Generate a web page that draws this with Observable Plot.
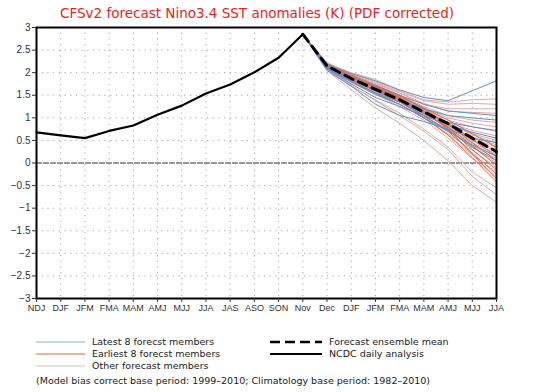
<!DOCTYPE html>
<html><head><meta charset="utf-8">
<script src="https://cdn.jsdelivr.net/npm/d3@7"></script>
<script src="https://cdn.jsdelivr.net/npm/@observablehq/plot@0.6"></script>
<style>
body{margin:0;background:#fff;font-family:"DejaVu Sans",sans-serif}
#wrap{position:relative;width:534px;height:392px;overflow:hidden;background:#fff}
#title{position:absolute;top:5px;left:-10px;width:534px;text-align:center;color:#e3261e;font-size:13.5px;font-family:"DejaVu Sans",sans-serif}
#chart{position:absolute;top:0;left:0}
.leg{position:absolute;font-size:9.5px;color:#222;white-space:nowrap;line-height:12px}
.sw{position:absolute}
</style>
</head><body>
<div id="wrap">
<div id="chart"></div>
<div id="title">CFSv2 forecast Nino3.4 SST anomalies (K) (PDF corrected)</div>
<div id="legend"></div>
</div>
<script>
const xLabels = ["NDJ","DJF","JFM","FMA","MAM","AMJ","MJJ","JJA","JAS","ASO","SON","Nov","Dec","DJF","JFM","FMA","MAM","AMJ","MJJ","JJA"];
const yTicks = [-3,-2.5,-2,-1.5,-1,-0.5,0,0.5,1,1.5,2,2.5,3];
// observed (NCDC daily analysis), NDJ .. Nov
const observed = [0.68,0.61,0.55,0.71,0.83,1.07,1.27,1.54,1.74,2.01,2.33,2.85];
// forecast ensemble mean, Nov .. JJA
const ensembleMean = [2.85,2.15,1.87,1.63,1.40,1.13,0.87,0.55,0.25];
// members, Nov .. JJA
const latest8 = [
 [2.85,2.18,1.98,1.82,1.62,1.45,1.38,1.60,1.82],
 [2.85,2.15,1.90,1.70,1.50,1.30,1.15,1.10,1.05],
 [2.85,2.12,1.85,1.60,1.40,1.20,1.05,1.00,0.95],
 [2.85,2.10,1.80,1.55,1.35,1.10,0.90,0.80,0.72],
 [2.85,2.08,1.75,1.45,1.25,1.05,0.85,0.68,0.55],
 [2.85,2.05,1.70,1.30,1.05,0.92,0.75,0.55,0.45],
 [2.85,2.10,1.80,1.52,1.30,1.00,0.70,0.40,0.15],
 [2.85,2.12,1.85,1.60,1.35,1.05,0.72,0.35,0.05]
];
const earliest8 = [
 [2.85,2.18,1.92,1.70,1.48,1.22,0.95,0.65,0.35],
 [2.85,2.15,1.90,1.68,1.45,1.15,0.88,0.52,0.15],
 [2.85,2.20,1.95,1.72,1.50,1.20,0.85,0.45,0.05],
 [2.85,2.14,1.88,1.62,1.40,1.10,0.80,0.38,-0.05],
 [2.85,2.16,1.90,1.66,1.42,1.12,0.78,0.30,-0.15],
 [2.85,2.12,1.85,1.60,1.35,1.05,0.70,0.22,-0.25],
 [2.85,2.18,1.92,1.68,1.45,1.15,0.75,0.20,-0.35],
 [2.85,2.10,1.82,1.55,1.30,1.00,0.62,0.12,-0.42]
];
const otherMembers = [
 [2.85,2.20,2.00,1.85,1.60,1.40,1.35,1.40,1.42],
 [2.85,2.22,1.98,1.80,1.58,1.38,1.30,1.32,1.30],
 [2.85,2.18,1.95,1.78,1.55,1.30,1.20,1.20,1.20],
 [2.85,2.20,1.95,1.75,1.55,1.32,1.15,1.12,1.10],
 [2.85,2.15,1.92,1.72,1.50,1.25,1.05,0.95,0.90],
 [2.85,2.17,1.90,1.70,1.48,1.22,1.00,0.88,0.80],
 [2.85,2.14,1.88,1.65,1.45,1.20,0.95,0.80,0.70],
 [2.85,2.16,1.90,1.68,1.42,1.15,0.90,0.72,0.60],
 [2.85,2.12,1.86,1.62,1.40,1.12,0.85,0.65,0.50],
 [2.85,2.18,1.94,1.72,1.50,1.20,0.90,0.62,0.45],
 [2.85,2.10,1.82,1.58,1.35,1.10,0.82,0.58,0.40],
 [2.85,2.15,1.90,1.66,1.44,1.15,0.85,0.55,0.35],
 [2.85,2.13,1.86,1.60,1.38,1.08,0.80,0.50,0.30],
 [2.85,2.20,1.96,1.74,1.50,1.18,0.85,0.50,0.25],
 [2.85,2.08,1.78,1.52,1.30,1.02,0.75,0.45,0.20],
 [2.85,2.14,1.88,1.64,1.40,1.10,0.78,0.42,0.15],
 [2.85,2.12,1.85,1.58,1.35,1.05,0.72,0.38,0.10],
 [2.85,2.16,1.90,1.66,1.42,1.12,0.75,0.35,0.00],
 [2.85,2.10,1.80,1.55,1.30,1.00,0.65,0.28,-0.10],
 [2.85,2.14,1.86,1.60,1.35,1.02,0.62,0.18,-0.20],
 [2.85,2.10,1.80,1.52,1.25,0.95,0.55,0.10,-0.30],
 [2.85,2.05,1.70,1.40,1.10,0.75,0.35,-0.20,-0.55],
 [2.85,2.08,1.72,1.38,1.05,0.70,0.30,-0.30,-0.70],
 [2.85,2.05,1.62,1.22,0.88,0.50,0.05,-0.50,-0.87]
];
const forecastStart = 11; // index of "Nov"

const toLong = (arr, group) => arr.flatMap((vals, m) => vals.map((v, i) => ({x: forecastStart + i, y: v, member: group + m})));
const obsData = observed.map((v, i) => ({x: i, y: v}));
const meanData = ensembleMean.map((v, i) => ({x: forecastStart + i, y: v}));

const fmt = d => (d < 0 ? "\u2212" : "") + String(Math.abs(d));

const chart = Plot.plot({
  width: 534, height: 316,
  marginTop: 27, marginBottom: 18, marginLeft: 36, marginRight: 38,
  style: {fontFamily: "'Liberation Sans', Arial, sans-serif", fontSize: "10px", background: "transparent", color: "#333"},
  x: {domain: [0, 19]},
  y: {domain: [-3, 3]},
  marks: [
    Plot.gridX(d3.range(1, 19), {stroke: "#999", strokeOpacity: 0.9, strokeDasharray: "1.2,4.5"}),
    Plot.gridY(yTicks.filter(d => d !== 0 && Math.abs(d) !== 3), {stroke: "#999", strokeOpacity: 0.9, strokeDasharray: "1.2,4.5"}),
    Plot.ruleY([0], {stroke: "#333", strokeWidth: 1, strokeDasharray: "6,1"}),
    Plot.line(toLong(otherMembers, "o"), {x: "x", y: "y", z: "member", stroke: "#dcaaa8", strokeWidth: 1}),
    Plot.line(toLong(earliest8, "e"), {x: "x", y: "y", z: "member", stroke: "#e8643c", strokeWidth: 1}),
    Plot.line(toLong(latest8, "l"), {x: "x", y: "y", z: "member", stroke: "#5f8fc8", strokeWidth: 1}),
    Plot.line(meanData, {x: "x", y: "y", stroke: "black", strokeWidth: 3, strokeDasharray: "9,6"}),
    Plot.line(obsData, {x: "x", y: "y", stroke: "black", strokeWidth: 2.2}),
    Plot.frame({stroke: "black", strokeWidth: 2}),
    Plot.axisX({ticks: d3.range(20), tickFormat: i => xLabels[i], tickSize: 4, tickPadding: 2, fontSize: 9, label: null}),
    Plot.axisY({ticks: yTicks, tickFormat: fmt, tickSize: 4, tickPadding: 2, label: null})
  ]
});
document.getElementById("chart").appendChild(chart);

// legend (HTML below the plot area)
const legendItems = [
  {label: "Latest 8 forecst members", color: "#8fb0d0", width: 1.2, dash: null, left: 36, top: 342},
  {label: "Earliest 8 forecst members", color: "#e8643c", width: 1.2, dash: null, left: 36, top: 354},
  {label: "Other forecast members", color: "#e2b8b6", width: 1.2, dash: null, left: 36, top: 366},
  {label: "Forecast ensemble mean", color: "black", width: 2.6, dash: "10,5", left: 270, top: 342},
  {label: "NCDC daily analysis", color: "black", width: 2.2, dash: null, left: 270, top: 354}
];
const leg = document.getElementById("legend");
for (const it of legendItems) {
  const sw = it.left === 36 ? 49 : 52;
  const s = document.createElementNS("http://www.w3.org/2000/svg", "svg");
  s.setAttribute("width", sw); s.setAttribute("height", 6);
  s.setAttribute("class", "sw");
  s.style.left = it.left + "px"; s.style.top = (it.top - 3) + "px";
  const ln = document.createElementNS("http://www.w3.org/2000/svg", "line");
  ln.setAttribute("x1", 0); ln.setAttribute("x2", sw); ln.setAttribute("y1", 3); ln.setAttribute("y2", 3);
  ln.setAttribute("stroke", it.color); ln.setAttribute("stroke-width", it.width);
  if (it.dash) ln.setAttribute("stroke-dasharray", it.dash);
  s.appendChild(ln);
  leg.appendChild(s);
  const t = document.createElement("div");
  t.className = "leg"; t.textContent = it.label;
  t.style.left = (it.left + sw + 7) + "px"; t.style.top = (it.top - 6) + "px";
  leg.appendChild(t);
}
const foot = document.createElement("div");
foot.className = "leg";
foot.textContent = "(Model bias correct base period: 1999\u20132010; Climatology base period: 1982\u20132010)";
foot.style.left = "36px"; foot.style.top = "375px";
leg.appendChild(foot);
</script>
</body></html>
